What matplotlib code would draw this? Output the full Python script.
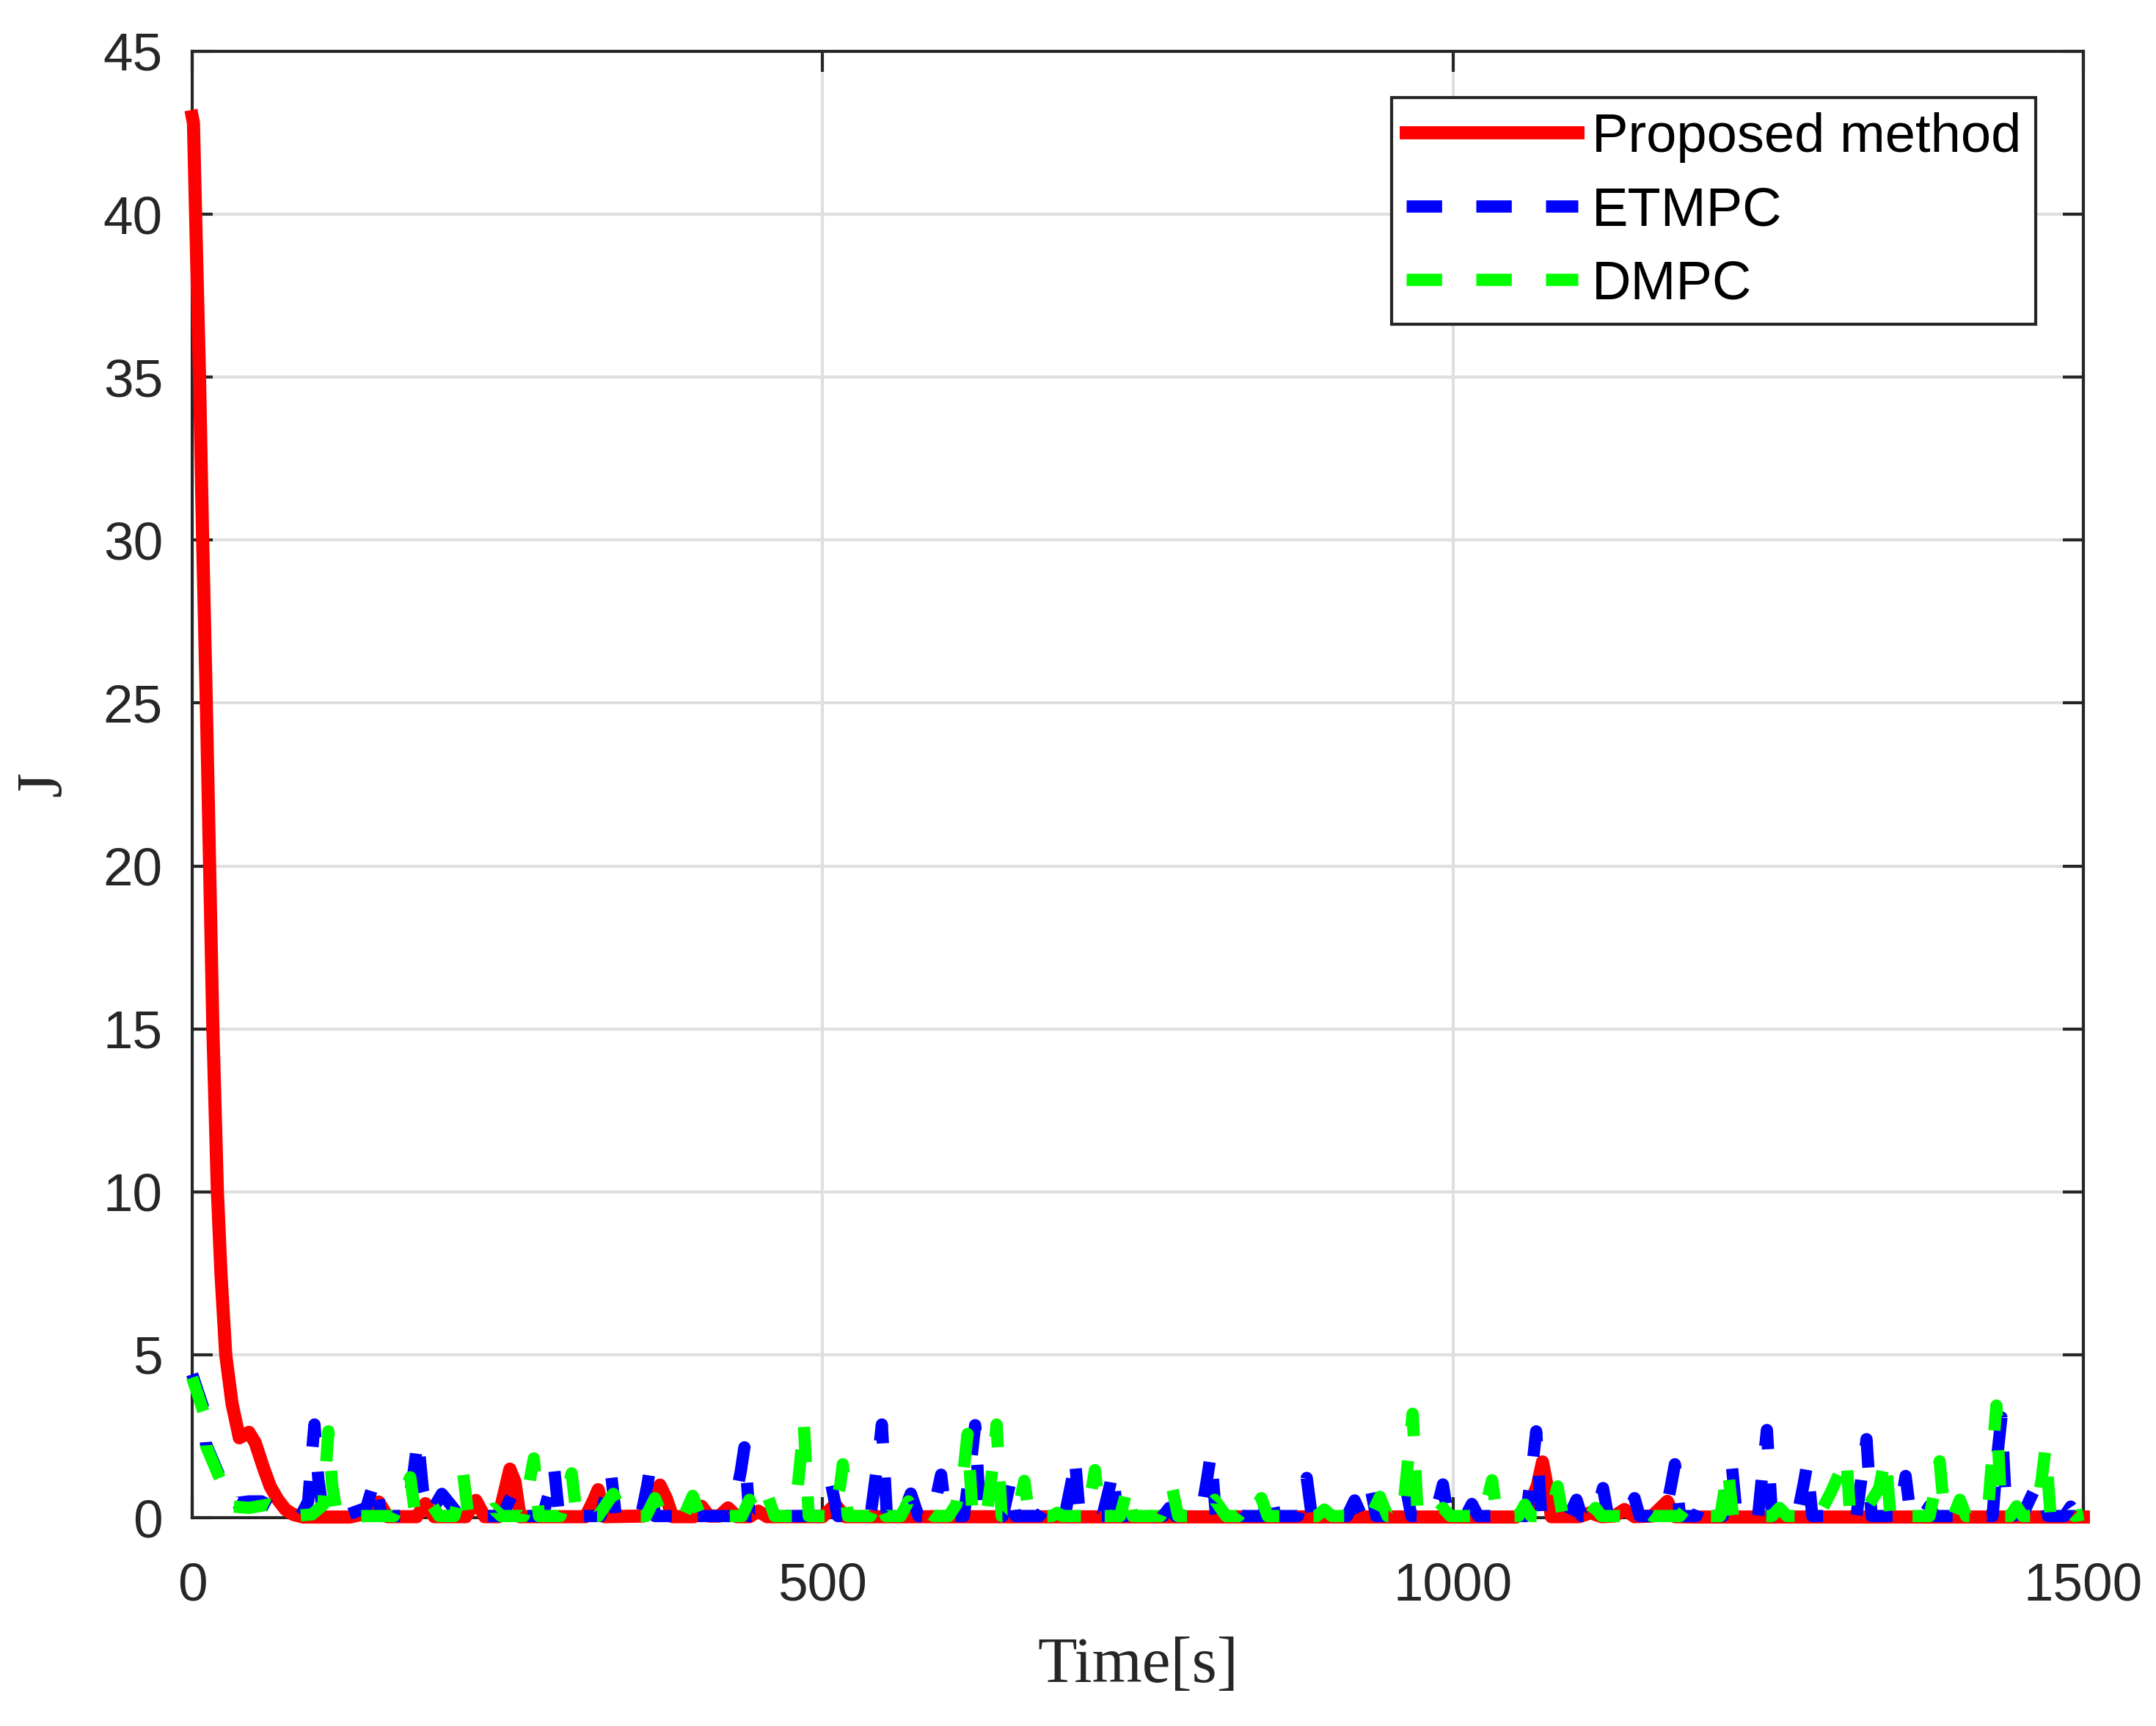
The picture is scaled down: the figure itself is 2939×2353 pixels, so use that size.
import matplotlib.pyplot as plt

# Proposed method (solid red)
red_t = [0, 1, 2.7, 5.8, 8.3, 11.2, 13.8, 16.4, 20, 22.8, 26.6, 31.6, 37.4, 45, 50, 56.8, 62, 68, 74, 80, 88,
         125, 140, 148, 155, 178, 185, 192, 217, 225, 232, 243, 249, 252, 256, 260,
         312, 318, 322, 327, 358, 366, 371, 376, 381, 398, 404, 410, 418, 425, 432,
         442, 449, 456, 500, 510, 518, 1050, 1060, 1067, 1071, 1075, 1078,
         1100, 1109, 1118, 1128, 1136, 1144, 1158, 1166, 1170, 1176, 1190, 1500]
red_J = [43, 42.8, 40, 35, 30, 25, 20, 15, 10, 7.5, 5, 3.5, 2.45, 2.62, 2.3, 1.5, 0.95, 0.55, 0.25, 0.1, 0.02,
         0.02, 0.15, 0.48, 0.03, 0.03, 0.43, 0.03, 0.03, 0.53, 0.03, 0.03, 1.0, 1.49, 1.1, 0.03,
         0.03, 0.5, 0.86, 0.03, 0.05, 0.6, 1.0, 0.6, 0.03, 0.03, 0.35, 0.05, 0.05, 0.3, 0.03,
         0.03, 0.2, 0.03, 0.03, 0.4, 0.03, 0.02, 0.3, 1.0, 1.71, 0.9, 0.03,
         0.03, 0.15, 0.03, 0.05, 0.25, 0.03, 0.05, 0.35, 0.5, 0.03, 0.02, 0.02]

# ETMPC (dashed blue)
blue_t = [0, 9, 11, 22, 28, 35, 45, 55, 62, 75, 86,
          92, 95, 97, 100, 104, 120, 138, 145, 150, 170, 176, 179, 183,
          188, 193, 198, 205, 212, 246, 254, 260, 278, 284, 287, 291,
          324, 330, 332, 336, 356, 361, 363, 367, 383, 388, 393,
          428, 435, 438, 442, 500, 507, 512, 538, 544, 547, 551,
          563, 570, 576, 587, 594, 598, 612, 618, 621, 625,
          643, 649, 653, 672, 677, 681, 692, 698, 700, 704,
          722, 728, 730, 734, 744, 748, 752, 770, 775, 780,
          800, 805, 808, 812, 822, 827, 832, 849, 855, 859,
          877, 882, 884, 888, 916, 922, 927, 930, 935, 939,
          957, 963, 967, 985, 990, 992, 996, 1010, 1015, 1020,
          1032, 1037, 1042, 1058, 1063, 1066, 1070, 1092, 1098, 1102,
          1113, 1119, 1123, 1138, 1144, 1148, 1168, 1173, 1176, 1180,
          1193, 1198, 1202, 1214, 1219, 1221, 1225, 1242, 1246, 1249, 1253,
          1273, 1278, 1281, 1285, 1320, 1325, 1328, 1332,
          1352, 1357, 1359, 1363, 1373, 1378, 1382,
          1428, 1432, 1435, 1439, 1452, 1458, 1463, 1468, 1472,
          1485, 1490, 1495, 1500]
blue_J = [4.4, 3.35, 2.25, 1.25, 0.6, 0.45, 0.5, 0.5, 0.35, 0.12, 0.05,
          0.5, 2.0, 2.86, 1.2, 0.1, 0.05, 0.3, 1.2, 0.05, 0.05, 1.5, 2.44, 0.85,
          0.1, 0.4, 0.73, 0.4, 0.05, 0.05, 0.73, 0.05, 0.05, 0.9, 1.55, 0.05,
          0.05, 1.0, 1.43, 0.05, 0.05, 1.0, 1.48, 0.05, 0.05, 0.3, 0.05,
          0.05, 1.4, 2.16, 0.05, 0.05, 1.0, 0.05, 0.05, 1.8, 2.86, 0.05,
          0.05, 0.74, 0.05, 0.05, 1.32, 0.05, 0.05, 1.8, 2.84, 0.05,
          0.05, 1.13, 0.05, 0.05, 0.35, 0.05, 0.05, 1.2, 1.88, 0.05,
          0.05, 1.0, 1.47, 0.05, 0.05, 0.2, 0.05, 0.05, 0.3, 0.05,
          0.05, 1.2, 1.97, 0.05, 0.05, 0.35, 0.05, 0.05, 0.85, 0.05,
          0.05, 0.8, 1.22, 0.05, 0.05, 0.53, 0.1, 0.1, 0.85, 0.05,
          0.05, 0.85, 0.05, 0.05, 0.7, 1.02, 0.05, 0.05, 0.42, 0.05,
          0.05, 0.3, 0.05, 0.05, 1.6, 2.65, 0.05, 0.05, 0.55, 0.05,
          0.05, 0.91, 0.05, 0.05, 0.6, 0.05, 0.05, 1.0, 1.64, 0.05,
          0.05, 0.55, 0.05, 0.05, 1.1, 1.69, 0.05, 0.05, 1.6, 2.69, 0.05,
          0.05, 1.0, 1.66, 0.05, 0.05, 1.5, 2.41, 0.05,
          0.05, 0.8, 1.28, 0.05, 0.05, 0.36, 0.05,
          0.05, 2.0, 3.08, 0.05, 0.1, 0.6, 1.0, 0.6, 0.05,
          0.05, 0.34, 0.05, 0.05]

# DMPC (dashed green)
green_t = [0, 9, 11, 22, 26, 30, 45, 60, 68, 80, 95,
           104, 108, 111, 115, 160, 168, 173, 177, 185, 190, 196,
           208, 213, 215, 219, 233, 239, 245, 263, 268, 271, 275,
           292, 298, 301, 305, 322, 334, 342, 360, 367, 373, 390, 397, 403,
           436, 442, 448, 452, 457, 462, 478, 483, 485, 489,
           508, 514, 516, 520, 538, 544, 550, 562, 568, 574, 579, 583, 588,
           600, 606, 612, 615, 619, 630, 635, 638, 642, 654, 660, 664,
           682, 686, 690, 710, 716, 720, 736, 742, 746, 768, 777, 782,
           800, 811, 820, 830, 839, 843, 848, 853, 892, 898, 904,
           935, 942, 948, 960, 965, 968, 972, 986, 992, 998,
           1024, 1031, 1035, 1052, 1057, 1062, 1077, 1083, 1087, 1108, 1113, 1118,
           1148, 1153, 1158, 1180, 1186, 1192, 1212, 1216, 1218, 1222, 1253, 1259, 1265,
           1290, 1300, 1308, 1312, 1315, 1318, 1330, 1338, 1343, 1347, 1352, 1358, 1364,
           1378, 1383, 1386, 1390, 1397, 1402, 1407, 1424, 1428, 1431, 1435,
           1442, 1447, 1452, 1462, 1467, 1470, 1474, 1482, 1487, 1493, 1500]
green_J = [4.3, 3.25, 2.2, 1.2, 0.6, 0.35, 0.3, 0.4, 0.25, 0.05, 0.1,
           0.4, 2.65, 1.0, 0.05, 0.05, 0.8, 1.24, 0.05, 0.05, 0.4, 0.05,
           0.05, 0.9, 1.33, 0.05, 0.05, 0.28, 0.05, 0.05, 1.2, 1.82, 0.05,
           0.05, 0.9, 1.36, 0.05, 0.05, 0.73, 0.05, 0.05, 0.6, 0.05, 0.05, 0.67, 0.05,
           0.05, 0.55, 0.1, 0.1, 0.6, 0.05, 0.05, 2.0, 2.96, 0.05,
           0.05, 1.0, 1.64, 0.05, 0.05, 0.63, 0.05, 0.05, 0.5, 0.05, 0.05, 0.2, 0.05,
           0.05, 0.4, 1.5, 2.57, 0.05, 0.05, 1.6, 2.86, 0.05, 0.05, 1.13, 0.05,
           0.05, 0.15, 0.05, 0.05, 1.46, 0.05, 0.05, 0.96, 0.05, 0.05, 0.96, 0.05,
           0.05, 0.55, 0.05, 0.05, 0.55, 0.3, 0.6, 0.05, 0.05, 0.25, 0.05,
           0.05, 0.64, 0.05, 0.05, 2.0, 3.19, 0.05, 0.05, 0.3, 0.05,
           0.05, 1.15, 0.05, 0.05, 0.4, 0.05, 0.05, 0.96, 0.05, 0.05, 0.3, 0.05,
           0.05, 0.2, 0.05, 0.05, 0.35, 0.05, 0.05, 1.0, 1.52, 0.05, 0.05, 0.3, 0.05,
           0.05, 0.8, 1.5, 1.88, 0.05, 0.05, 0.4, 0.9, 1.88, 0.05, 0.05, 0.3, 0.05,
           0.05, 1.0, 1.73, 0.05, 0.05, 0.55, 0.05, 0.05, 2.0, 3.44, 0.05,
           0.05, 0.35, 0.05, 0.05, 1.2, 2.15, 0.05, 0.05, 0.3, 0.05, 0.1]

x_ticks = [0, 500, 1000, 1500]
y_ticks = [0, 5, 10, 15, 20, 25, 30, 35, 40, 45]

dark = '#262626'
W, H = 2939, 2353
fig = plt.figure(figsize=(W / 300, H / 300), dpi=300)
ax = fig.add_axes([262 / W, 1 - 2069 / H, (2840 - 262) / W, (2069 - 70) / H])

ax.plot(red_t, red_J, color='#ff0000', lw=4.3, label='Proposed method',
        clip_on=False, zorder=3, solid_joinstyle='round')
ax.plot(blue_t, blue_J, color='#0000ff', lw=4, dashes=(2.9, 2.8), label='ETMPC',
        clip_on=False, zorder=3)
ax.plot(green_t, green_J, color='#00ff00', lw=4, dashes=(2.9, 2.8), label='DMPC',
        clip_on=False, zorder=3)

ax.set_xlim(0, 1500)
ax.set_ylim(0, 45)
ax.set_xticks(x_ticks)
ax.set_yticks(y_ticks)
ax.grid(True, color='#dfdfdf', lw=1.0)
ax.set_axisbelow(True)
for s in ax.spines.values():
    s.set_color(dark)
    s.set_linewidth(1.0)
ax.tick_params(direction='in', length=6.7, width=1, top=True, right=True,
               labelsize=17.5, color=dark, labelcolor=dark)
ax.tick_params(axis='x', pad=14.4)
ax.tick_params(axis='y', pad=9.6)
for lab in ax.get_xticklabels() + ax.get_yticklabels():
    lab.set_family('Liberation Sans')

ax.set_xlabel('Time[s]', family='Liberation Serif', fontsize=21, color=dark, labelpad=8.5)
ax.set_ylabel('J', family='Liberation Serif', fontsize=21, color=dark, labelpad=9.5)

leg = ax.legend(loc='upper right', bbox_to_anchor=(0.9748, 0.9685), borderaxespad=0,
                fancybox=False, edgecolor=dark, framealpha=1,
                prop={'family': 'Liberation Sans', 'size': 17.8},
                handlelength=3.15, handletextpad=0.25, borderpad=0.27, labelspacing=0.42)
leg.get_frame().set_linewidth(1.0)

fig.savefig('out.png', dpi=300)
